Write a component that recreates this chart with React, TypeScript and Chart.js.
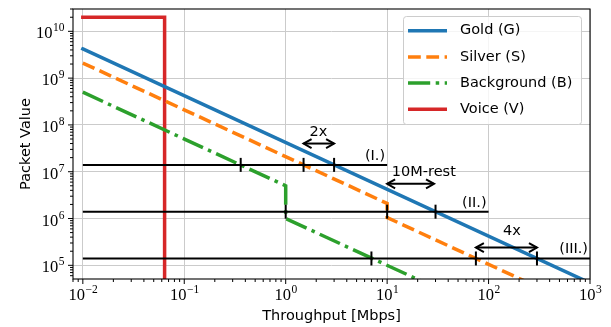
import React, { useEffect, useRef } from 'react';
import { Chart, registerables } from 'chart.js';

Chart.register(...registerables);

// ---- axis ranges ----
const X_MIN = 0.008;
const X_MAX = 1000;
const Y_MIN = 5.1e4;
const Y_MAX = 3.0e10;

// ---- series (throughput in Mbps, packet value) ----
const seriesNames = ['Gold (G)', 'Silver (S)', 'Background (B)', 'Voice (V)'];
const goldX = [0.01, 1000];
const goldY = [4.2e9, 4.2e4];
const silverX = [0.01, 10, 10, 1000];
const silverY = [2.1e9, 2.1e6, 1.05e6, 1.05e4];
const backgroundX = [0.01, 1, 1, 1000];
const backgroundY = [5e8, 5e6, 1e6, 1e3];
const voiceX = [0.01, 0.064, 0.064];
const voiceY = [2e10, 2e10, 1e3];

// ---- threshold levels ----
const levelValues = [1.4e7, 1.4e6, 1.4e5];
const levelStartX = [0.01, 0.01, 0.01];
const levelEndX = [10, 100, 1000];
const levelLabels = ['(I.)', '(II.)', '(III.)'];
const levelMarkX = [
  [0.36, 1.5, 3],
  [1, 10, 30],
  [7, 75, 300],
];

// ---- arrow annotations ----
const arrowFromX = [1.5, 10, 75];
const arrowToX = [3, 29, 300];
const arrowY = [4e7, 5.5e6, 2.4e5];
const arrowLabels = ['2x', '10M-rest', '4x'];
const arrowLabelX = [2.1, 23, 170];
const arrowLabelY = [5.8e7, 8.3e6, 4.4e5];

const SANS = '"DejaVu Sans", sans-serif';
const SERIF = '"Liberation Serif", "DejaVu Serif", serif';

const pts = (xs: number[], ys: number[]) => xs.map((x, i) => ({ x, y: ys[i] }));

const isMajor = (v: number) => {
  const l = Math.log10(v);
  return Math.abs(l - Math.round(l)) < 1e-9;
};

const logTicks = (min: number, max: number) => {
  const out: { value: number; major: boolean }[] = [];
  const e0 = Math.floor(Math.log10(min));
  const e1 = Math.ceil(Math.log10(max));
  for (let e = e0; e <= e1; e++) {
    for (let m = 1; m <= 9; m++) {
      const v = m * Math.pow(10, e);
      if (v >= min * (1 - 1e-9) && v <= max * (1 + 1e-9)) out.push({ value: v, major: m === 1 });
    }
  }
  return out;
};

const decorPlugin = {
  id: 'decor',
  afterDatasetsDraw(chart: any) {
    const { ctx, chartArea: a } = chart;
    const xs = chart.scales.x;
    const ys = chart.scales.y;
    ctx.save();

    // level labels
    ctx.fillStyle = '#000';
    ctx.font = `14.5px ${SANS}`;
    ctx.textAlign = 'right';
    ctx.textBaseline = 'alphabetic';
    levelLabels.forEach((t, i) => {
      ctx.fillText(t, xs.getPixelForValue(levelEndX[i]) - 2, ys.getPixelForValue(levelValues[i]) - 5);
    });

    // arrows
    ctx.strokeStyle = '#000';
    ctx.lineWidth = 2;
    ctx.lineJoin = 'miter';
    arrowLabels.forEach((t, i) => {
      const x1 = xs.getPixelForValue(arrowFromX[i]);
      const x2 = xs.getPixelForValue(arrowToX[i]);
      const y = ys.getPixelForValue(arrowY[i]);
      ctx.beginPath();
      ctx.moveTo(x1, y);
      ctx.lineTo(x2, y);
      ctx.stroke();
      const hl = 8, hw = 4.5;
      ctx.beginPath();
      ctx.moveTo(x1 + hl, y - hw);
      ctx.lineTo(x1, y);
      ctx.lineTo(x1 + hl, y + hw);
      ctx.moveTo(x2 - hl, y - hw);
      ctx.lineTo(x2, y);
      ctx.lineTo(x2 - hl, y + hw);
      ctx.stroke();
      ctx.textAlign = 'center';
      ctx.fillText(t, xs.getPixelForValue(arrowLabelX[i]), ys.getPixelForValue(arrowLabelY[i]));
    });

    // frame
    ctx.lineWidth = 1.1;
    ctx.strokeStyle = '#000';
    ctx.strokeRect(a.left, a.top, a.right - a.left, a.bottom - a.top);

    // tick marks
    ctx.lineWidth = 1;
    ctx.beginPath();
    xs.ticks.forEach((t: any) => {
      const px = xs.getPixelForValue(t.value);
      if (px < a.left - 0.5 || px > a.right + 0.5) return;
      const len = isMajor(t.value) ? 5 : 3;
      ctx.moveTo(px, a.bottom);
      ctx.lineTo(px, a.bottom + len);
    });
    ys.ticks.forEach((t: any) => {
      const py = ys.getPixelForValue(t.value);
      if (py < a.top - 0.5 || py > a.bottom + 0.5) return;
      const len = isMajor(t.value) ? 5 : 3;
      ctx.moveTo(a.left, py);
      ctx.lineTo(a.left - len, py);
    });
    ctx.stroke();

    // tick labels 10^n
    const baseFont = `16.5px ${SERIF}`;
    const supFont = `11.5px ${SERIF}`;
    const expStr = (v: number) => {
      const e = Math.round(Math.log10(v));
      return e < 0 ? '\u2212' + Math.abs(e) : String(e);
    };
    ctx.textAlign = 'left';
    ctx.textBaseline = 'alphabetic';
    xs.ticks.forEach((t: any) => {
      if (!isMajor(t.value)) return;
      const px = xs.getPixelForValue(t.value);
      if (px < a.left - 0.5 || px > a.right + 0.5) return;
      const es = expStr(t.value);
      ctx.font = baseFont;
      const w1 = ctx.measureText('10').width;
      ctx.font = supFont;
      const w2 = ctx.measureText(es).width;
      const sx = px - (w1 + w2) / 2;
      ctx.font = baseFont;
      ctx.fillText('10', sx, a.bottom + 21);
      ctx.font = supFont;
      ctx.fillText(es, sx + w1 + 0.5, a.bottom + 14);
    });
    ys.ticks.forEach((t: any) => {
      if (!isMajor(t.value)) return;
      const py = ys.getPixelForValue(t.value);
      if (py < a.top - 0.5 || py > a.bottom + 0.5) return;
      const es = expStr(t.value);
      ctx.font = baseFont;
      const w1 = ctx.measureText('10').width;
      ctx.font = supFont;
      const w2 = ctx.measureText(es).width;
      const sx = a.left - 9 - (w1 + w2);
      ctx.font = baseFont;
      ctx.fillText('10', sx, py + 7);
      ctx.font = supFont;
      ctx.fillText(es, sx + w1 + 0.5, py);
    });

    // axis titles
    ctx.font = `14.5px ${SANS}`;
    ctx.textAlign = 'center';
    ctx.fillText('Throughput [Mbps]', (a.left + a.right) / 2, 320);
    ctx.save();
    ctx.translate(29.5, (a.top + a.bottom) / 2);
    ctx.rotate(-Math.PI / 2);
    ctx.fillText('Packet Value', 0, 0);
    ctx.restore();

    // legend
    const lx = 403.5, ly = 16.5, lw = 178, lh = 108;
    ctx.beginPath();
    if ((ctx as any).roundRect) (ctx as any).roundRect(lx, ly, lw, lh, 3);
    else ctx.rect(lx, ly, lw, lh);
    ctx.fillStyle = 'rgba(255,255,255,0.8)';
    ctx.fill();
    ctx.strokeStyle = '#cccccc';
    ctx.lineWidth = 1;
    ctx.stroke();
    chart.data.datasets.slice(0, 4).forEach((ds: any, i: number) => {
      const cy = 30.7 + i * 26.2;
      ctx.save();
      ctx.strokeStyle = ds.borderColor;
      ctx.lineWidth = ds.borderWidth;
      ctx.lineCap = 'butt';
      ctx.setLineDash(ds.borderDash || []);
      ctx.beginPath();
      ctx.moveTo(408, cy);
      ctx.lineTo(447, cy);
      ctx.stroke();
      ctx.restore();
      ctx.fillStyle = '#000';
      ctx.font = `14.5px ${SANS}`;
      ctx.textAlign = 'left';
      ctx.textBaseline = 'middle';
      ctx.fillText(ds.label, 460, cy);
    });

    ctx.restore();
  },
};

export default function App() {
  const ref = useRef<HTMLCanvasElement | null>(null);

  useEffect(() => {
    if (!ref.current) return;
    const main = (label: string, data: any[], color: string, dash: number[] | undefined, cap: string) => ({
      label,
      data,
      borderColor: color,
      backgroundColor: color,
      borderWidth: 3.5,
      borderDash: dash,
      borderCapStyle: cap,
      borderJoinStyle: 'miter',
      pointRadius: 0,
      pointHoverRadius: 0,
      fill: false,
      tension: 0,
      clip: 0,
      order: 3,
    });
    const levelSets = levelValues.map((v, i) => ({
      label: 'level' + i,
      data: [
        { x: levelStartX[i], y: v },
        { x: levelEndX[i], y: v },
      ],
      borderColor: '#000',
      borderWidth: 2,
      pointRadius: 0,
      fill: false,
      clip: 0,
      order: 2,
    }));
    const markSets = levelValues.map((v, i) => ({
      label: 'marks' + i,
      data: levelMarkX[i].map((x) => ({ x, y: v })),
      showLine: false,
      pointStyle: 'line',
      rotation: 90,
      pointRadius: 7,
      pointHoverRadius: 7,
      pointBorderWidth: 2,
      pointBorderColor: '#000',
      pointBackgroundColor: '#000',
      borderColor: '#000',
      order: 1,
    }));

    const chart = new Chart(ref.current, {
      type: 'line',
      data: {
        datasets: [
          main(seriesNames[0], pts(goldX, goldY), '#1f77b4', undefined, 'square'),
          main(seriesNames[1], pts(silverX, silverY), '#ff7f0e', [12.8, 5.5], 'butt'),
          main(seriesNames[2], pts(backgroundX, backgroundY), '#2ca02c', [22.2, 5.5, 3.5, 5.5], 'butt'),
          main(seriesNames[3], pts(voiceX, voiceY), '#d62728', undefined, 'square'),
          ...levelSets,
          ...markSets,
        ] as any,
      },
      options: {
        responsive: false,
        animation: false,
        devicePixelRatio: 1,
        layout: { padding: { left: 0, top: 7, right: 21, bottom: 0 } },
        events: [],
        plugins: {
          legend: { display: false },
          tooltip: { enabled: false },
        },
        scales: {
          x: {
            type: 'logarithmic',
            min: X_MIN,
            max: X_MAX,
            afterBuildTicks: (scale: any) => {
              scale.ticks = logTicks(X_MIN, X_MAX);
            },
            afterFit: (scale: any) => {
              scale.height = 48;
            },
            ticks: { display: false, autoSkip: false },
            border: { display: false },
            grid: {
              drawTicks: false,
              lineWidth: 1,
              color: (c: any) => (c.tick && isMajor(c.tick.value) ? '#cbcbcb' : 'rgba(0,0,0,0)'),
            },
          },
          y: {
            type: 'logarithmic',
            min: Y_MIN,
            max: Y_MAX,
            afterBuildTicks: (scale: any) => {
              scale.ticks = logTicks(Y_MIN, Y_MAX);
            },
            afterFit: (scale: any) => {
              scale.width = 73;
            },
            ticks: { display: false, autoSkip: false },
            border: { display: false },
            grid: {
              drawTicks: false,
              lineWidth: 1,
              color: (c: any) => (c.tick && isMajor(c.tick.value) ? '#cbcbcb' : 'rgba(0,0,0,0)'),
            },
          },
        },
      } as any,
      plugins: [decorPlugin],
    });
    return () => chart.destroy();
  }, []);

  return (
    <div style={{ position: 'absolute', left: 0, top: 0, width: 611, height: 327, background: '#fff' }}>
      <canvas ref={ref} width={611} height={327} style={{ display: 'block' }} />
    </div>
  );
}
